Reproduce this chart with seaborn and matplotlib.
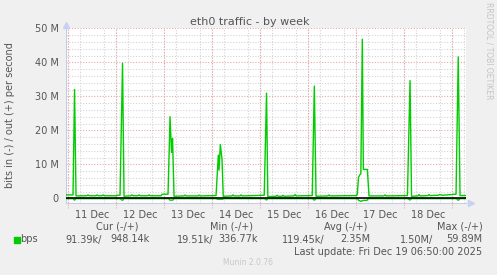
import matplotlib
matplotlib.use("Agg")
import matplotlib.pyplot as plt
import matplotlib.dates as mdates
from matplotlib.patches import Rectangle
import numpy as np
import pandas as pd
import seaborn as sns

# ---------------- data ----------------
base_time = "2025-12-11 00:00"
x_start_hours = -1.1667   # Dec 10 22:50
x_end_hours = 198.8333    # Dec 19 06:50

# out (+) traffic, hours since Dec 11 00:00, values in Mbit/s
out_hours = [-1.2, 2.5, 3.25, 4.0, 9.5, 10.0, 10.5, 14.0, 14.5, 15.0, 17.0, 17.5, 18.0,
             24.0, 25.0, 26.0, 27.25, 28.0, 31.5, 32.0, 32.5, 35.0, 35.5, 36.0, 40.0,
             40.5, 41.0, 46.5, 47.0, 50.0, 51.0, 51.75, 52.25, 53.0, 58.0, 58.5, 59.0,
             65.0, 65.5, 66.0, 74.0, 75.15, 75.5, 76.15, 77.0, 77.6, 82.0, 82.5, 83.0,
             86.0, 86.5, 87.0, 98.1, 99.25, 99.9, 104.0, 104.5, 105.0, 107.0, 107.5,
             108.0, 113.0, 113.5, 114.0, 122.1, 123.15, 124.0, 130.0, 130.5, 131.0,
             144.0, 144.6, 145.25, 146.0, 146.4, 147.15, 147.65, 149.65, 150.5, 158.0,
             158.5, 159.0, 169.7, 171.0, 171.75, 175.0, 175.5, 176.0, 180.0, 180.5,
             181.0, 185.0, 186.0, 187.0, 192.0, 193.5, 194.0, 195.1, 196.0, 198.9]
out_mbps = [1.0, 1.0, 32.0, 0.7, 0.75, 1.0, 0.75, 0.75, 1.0, 0.75, 0.75, 1.0, 0.75,
            0.75, 0.9, 0.9, 39.7, 0.6, 0.75, 1.0, 0.75, 0.75, 1.0, 0.75, 0.75,
            1.0, 0.75, 0.75, 1.2, 1.2, 24.0, 13.5, 17.6, 0.6, 0.7, 0.95, 0.7,
            0.7, 0.95, 0.7, 0.8, 12.7, 8.3, 15.8, 11.3, 0.6, 0.7, 1.0, 0.7,
            0.7, 1.0, 0.7, 0.9, 30.9, 0.5, 0.6, 0.9, 0.6, 0.6, 0.9,
            0.6, 0.7, 1.1, 0.7, 0.8, 33.0, 0.6, 0.7, 1.0, 0.7,
            0.8, 1.0, 6.2, 7.0, 7.2, 46.8, 8.5, 8.5, 0.7, 0.7,
            1.0, 0.7, 0.8, 34.6, 0.6, 0.7, 1.1, 0.7, 0.8, 1.1,
            0.8, 0.9, 1.1, 0.9, 1.1, 1.2, 1.2, 41.6, 0.8, 0.8]

# in (-) traffic, drawn negative, Mbit/s
in_hours = [-1.2, 2.5, 3.25, 4.0, 26.0, 27.25, 28.0, 50.25, 51.0, 52.5, 53.0,
            74.3, 74.6, 77.3, 77.5, 98.2, 99.25, 99.9, 122.2, 123.15, 124.0,
            144.8, 145.3, 146.5, 147.5, 149.5, 150.0, 169.8, 171.0, 171.75,
            194.2, 195.1, 196.0, 198.9]
in_mbps = [0.1, 0.1, 0.55, 0.1, 0.1, 0.6, 0.1, 0.1, 0.55, 0.5, 0.1,
           0.1, 0.3, 0.3, 0.1, 0.1, 0.5, 0.1, 0.1, 0.55, 0.1,
           0.1, 0.6, 0.9, 0.6, 0.6, 0.1, 0.1, 0.5, 0.1,
           0.1, 0.6, 0.1, 0.1]

title = "eth0 traffic - by week"
y_label = "bits in (-) / out (+) per second"
y_ticks_m = [0, 10, 20, 30, 40, 50]
legend_name = "bps"
stat_headers = ["Cur (-/+)", "Min (-/+)", "Avg (-/+)", "Max (-/+)"]
stat_in = ["91.39k/", "19.51k/", "119.45k/", "1.50M/"]
stat_out = ["948.14k", "336.77k", "2.35M", "59.89M"]
last_update = "Last update: Fri Dec 19 06:50:00 2025"
footer = "Munin 2.0.76"
side_text = "RRDTOOL / TOBI OETIKER"

# ---------------- build frames ----------------
t0 = pd.Timestamp(base_time)
df_out = pd.DataFrame({"time": t0 + pd.to_timedelta(out_hours, unit="h"),
                       "bps": np.array(out_mbps) * 1e6})
df_in = pd.DataFrame({"time": t0 + pd.to_timedelta(in_hours, unit="h"),
                      "bps": -np.array(in_mbps) * 1e6})

# ---------------- figure ----------------
sns.set_style("white")
plt.rcParams["font.family"] = ["DejaVu Sans"]
W, H = 497, 275
fig = plt.figure(figsize=(W / 100, H / 100), dpi=100, facecolor="#F0F0F0")
ax = fig.add_axes([65.7 / W, (H - 203.3) / H, 400 / W, 175 / H], facecolor="white")

GREEN = "#00CC00"
TXT = "#555555"
MINOR = "#d4d4d4"
MAJOR = "#e8a8a8"

xmin = t0 + pd.Timedelta(hours=x_start_hours)
xmax = t0 + pd.Timedelta(hours=x_end_hours)
ax.set_xlim(xmin, xmax)
ax.set_ylim(-1.47e6, 50e6)

# grid
ax.set_yticks([v * 1e6 for v in y_ticks_m])
ax.set_yticks(np.arange(0, 50.1e6, 2e6), minor=True)
ax.xaxis.set_major_locator(mdates.HourLocator(byhour=[12]))
ax.xaxis.set_major_formatter(mdates.DateFormatter("%d %b"))
ax.xaxis.set_minor_locator(mdates.HourLocator(byhour=[0, 6, 12, 18]))
ax.grid(which="minor", axis="both", color=MINOR, linestyle=(0, (1, 1.5)), linewidth=0.8)
ax.grid(which="major", axis="y", color=MAJOR, linestyle=(0, (1, 1.5)), linewidth=0.8)
ax.grid(which="major", axis="x", visible=False)
days = pd.date_range(xmin.ceil("D"), xmax.floor("D"), freq="D")
ax.vlines(mdates.date2num(days.to_pydatetime()), -0.025, 1,
          transform=ax.get_xaxis_transform(), colors=MAJOR, linestyles=(0, (1, 1.5)),
          linewidth=0.8, clip_on=False, zorder=1)

sns.lineplot(data=df_out, x="time", y="bps", ax=ax, color=GREEN, linewidth=1.0,
             estimator=None, sort=False, zorder=3)
sns.lineplot(data=df_in, x="time", y="bps", ax=ax, color=GREEN, linewidth=1.0,
             estimator=None, sort=False, zorder=3)
ax.axhline(0, color="black", linewidth=1.2, zorder=4)
ax.set_xlim(xmin, xmax)
ax.set_ylim(-1.47e6, 50e6)

ax.set_xlabel("")
ax.set_ylabel("")
ax.yaxis.set_major_formatter(plt.FuncFormatter(lambda v, p: "0" if v == 0 else f"{v/1e6:.0f} M"))
ax.tick_params(axis="y", which="major", length=2, color=MAJOR, pad=3, labelsize=7, labelcolor=TXT)
ax.tick_params(axis="y", which="minor", length=2, color=MINOR)
ax.tick_params(axis="x", which="major", length=0, pad=5, labelsize=7, labelcolor=TXT)
ax.tick_params(axis="x", which="minor", length=3, color=MINOR)
for s in ["top", "right"]:
    ax.spines[s].set_visible(False)
ax.spines["left"].set_color("#c8cce8")
ax.spines["bottom"].set_color("#c8cce8")
ax.spines["left"].set_linewidth(0.8)
ax.spines["bottom"].set_linewidth(0.8)
ax.plot([0], [1.02], marker="^", markersize=4, color="#c8d0f4", transform=ax.transAxes, clip_on=False)
ax.plot([1.012], [0], marker=">", markersize=4, color="#c8d0f4", transform=ax.transAxes, clip_on=False)


def T(x, y, s, ha="left", **kw):
    kw.setdefault("color", TXT)
    kw.setdefault("fontsize", 7)
    fig.text(x / W, 1 - y / H, s, ha=ha, va="center", **kw)


T(250, 22, title, ha="center", fontsize=8)
T(10, 115, y_label, ha="center", rotation=90)
T(489, 51, side_text, ha="center", rotation=270, color="#c4c4c4", fontsize=5.5)

hdr_x = [117.5, 231, 346, 459.5]
for x, s in zip(hdr_x, stat_headers):
    T(x, 226.5, s, ha="center")
fig.patches.append(Rectangle((14 / W, 1 - 243 / H), 6 / W, 6 / H, transform=fig.transFigure,
                             color=GREEN, zorder=5))
T(20, 239.5, legend_name)
in_x = [101.7, 213, 325, 433.3]
out_x = [150, 258, 370, 482.3]
for x, s in zip(in_x, stat_in):
    T(x, 239.5, s, ha="right")
for x, s in zip(out_x, stat_out):
    T(x, 239.5, s, ha="right")
T(482.3, 251.7, last_update, ha="right")
T(248, 262.5, footer, ha="center", color="#c8c8c8", fontsize=5.5)

fig.savefig("out.png", dpi=100, facecolor=fig.get_facecolor())
